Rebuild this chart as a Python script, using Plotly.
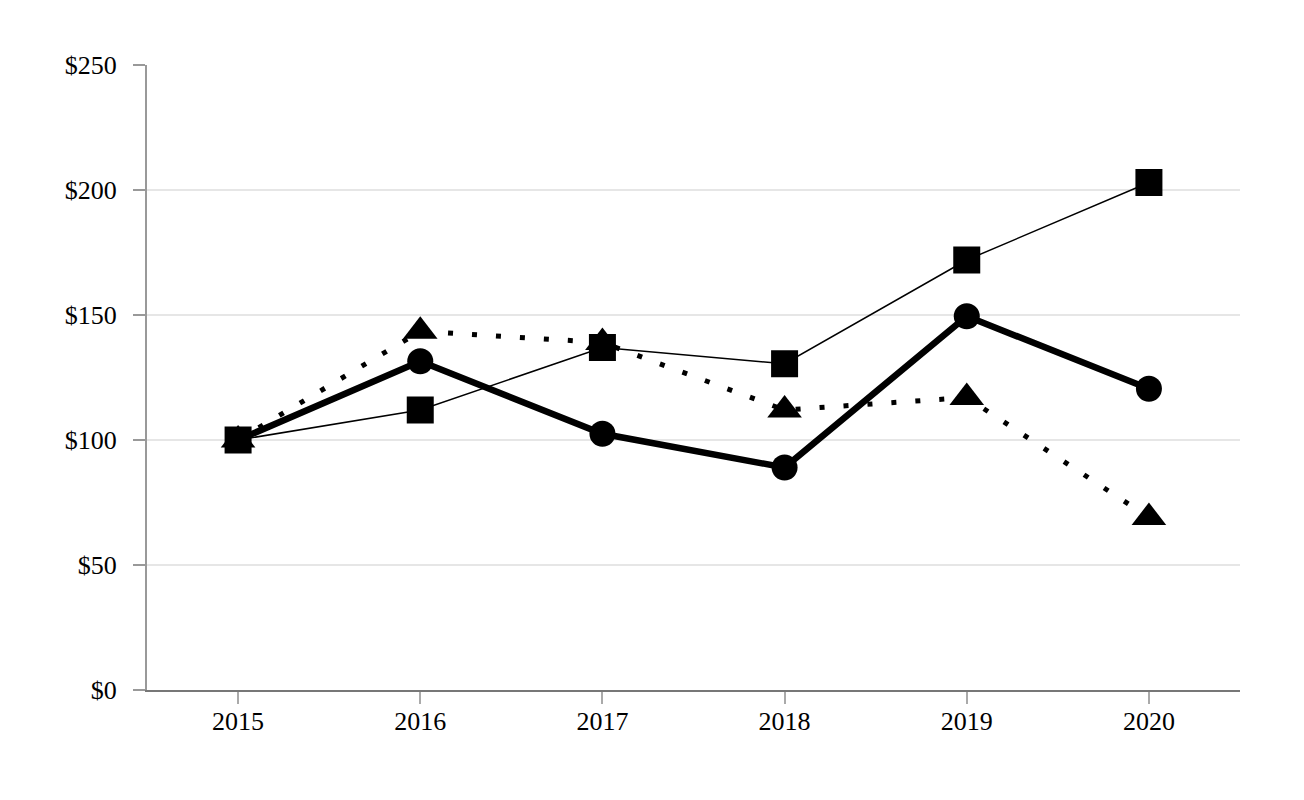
import plotly.graph_objects as go

years = ["2015", "2016", "2017", "2018", "2019", "2020"]
squares = [100, 112, 137, 130.5, 172, 203]
circles = [100, 131.5, 102.5, 89, 149.5, 120.5]
triangles = [100, 143.5, 139, 112, 117, 69]
y_ticks = [0, 50, 100, 150, 200, 250]
y_labels = ["$" + str(v) for v in y_ticks]

fig = go.Figure()

fig.add_trace(go.Scatter(
    x=years, y=triangles, mode="lines+markers", name="Triangles",
    line=dict(color="black", width=5, dash="5px,19px"),
    marker=dict(symbol="triangle-up", size=30, color="black"),
))
fig.add_trace(go.Scatter(
    x=years, y=circles, mode="lines+markers", name="Circles",
    line=dict(color="black", width=6.5),
    marker=dict(symbol="circle", size=26, color="black"),
))
fig.add_trace(go.Scatter(
    x=years, y=squares, mode="lines+markers", name="Squares",
    line=dict(color="black", width=1.5),
    marker=dict(symbol="square", size=27, color="black"),
))

fig.update_layout(
    width=1304, height=800,
    margin=dict(l=139, r=72, t=57, b=118),
    paper_bgcolor="white", plot_bgcolor="white",
    showlegend=False,
    font=dict(family="Liberation Serif, Times New Roman, serif", size=26, color="black"),
)
fig.update_xaxes(
    type="category", range=[-0.5, 5.5],
    showgrid=False, showline=True, linecolor="#777777", linewidth=2,
    ticks="outside", ticklen=12, tickcolor="#aaaaaa", tickwidth=1.5,
    tickfont=dict(family="Liberation Serif, Times New Roman, serif", size=26, color="black"),
    ticklabelstandoff=-5,
)
fig.update_yaxes(
    range=[0, 250], tickmode="array", tickvals=y_ticks, ticktext=y_labels,
    showgrid=True, gridcolor="#e6e6e6", gridwidth=1.5,
    showline=True, linecolor="#999999", linewidth=2,
    ticks="outside", ticklen=12, tickcolor="#999999", tickwidth=1.5,
    zeroline=False,
    tickfont=dict(family="Liberation Serif, Times New Roman, serif", size=26, color="black"),
    ticklabelstandoff=11,
)

fig.write_html("out.html")
